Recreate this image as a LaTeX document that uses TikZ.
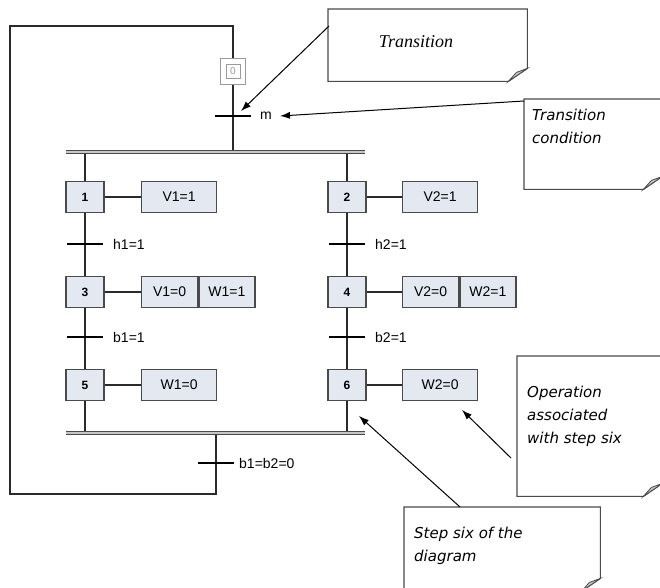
\documentclass[tikz,border=0pt]{standalone}
\usepackage{fontspec}
\setmainfont{Liberation Sans}
\newfontfamily\notefont{DejaVu Sans}
\newfontfamily\noteserif{Liberation Serif}
\usetikzlibrary{arrows.meta}

\definecolor{stepfill}{HTML}{E3E8F1}
\definecolor{stepline}{HTML}{4A4A4A}
\definecolor{wirecol}{HTML}{2A2A2A}
\definecolor{initgray}{HTML}{9A9A9A}
\definecolor{foldgray}{HTML}{C4C4C4}

\tikzset{
  stepbox/.style={draw=stepline, fill=stepfill, line width=1.3pt,
    minimum width=38pt, minimum height=31pt, inner sep=0pt,
    font=\fontsize{12}{12}\selectfont\bfseries},
  actbox/.style={draw=stepline, fill=stepfill, line width=1.3pt,
    minimum width=75pt, minimum height=31pt, inner sep=0pt,
    font=\fontsize{14}{14}\selectfont},
  halfbox/.style={actbox, minimum width=56pt},
  initouter/.style={draw=initgray, fill=white, line width=1pt,
    minimum width=25pt, minimum height=26pt, inner sep=0pt},
  initinner/.style={draw=initgray, line width=1pt, minimum width=14pt,
    minimum height=14pt, inner sep=0pt, text=initgray,
    font=\fontsize{10}{10}\selectfont},
  wire/.style={draw=wirecol, line width=1.1pt},
  tick/.style={draw=black, line width=1.2pt},
  cond/.style={anchor=west, inner sep=0pt, font=\fontsize{14}{14}\selectfont},
  bar/.style={draw=stepline, double=gray!45, double distance=1.6pt, line width=1.3pt},
  callout/.style={-{Latex[length=10pt,width=7pt]}, line width=1pt, draw=black},
  notearea/.style={inner sep=0pt, anchor=north west},
  notebody/.style={draw=stepline, line width=1.1pt, fill=white},
  notetext/.style={inner sep=0pt, anchor=west, align=left,
    font=\notefont\itshape\fontsize{15}{23}\selectfont},
}

% outline of a sticky note with a curled lower right corner
\newcommand\noteoutline[1]{%
  \draw[notebody] (#1.north west) -- (#1.north east)
    -- ([yshift=13pt]#1.south east) -- ([xshift=-19pt]#1.south east)
    -- (#1.south west) -- cycle;
  \filldraw[fill=foldgray, draw=stepline, line width=0.8pt]
    ([yshift=13pt]#1.south east) -- ([xshift=-19pt]#1.south east)
    -- ([xshift=-11pt,yshift=9pt]#1.south east) -- cycle;}

\begin{document}
\begin{tikzpicture}[x=1pt,y=-1pt]
\useasboundingbox (0,0) rectangle (660,587);

% initial step
\node[initouter] (s0) at (233,71) {};
\node[initinner] (s0i) at (s0) {0};

% steps of both branches
\node[stepbox] (s1) at (85,197) {1};
\node[stepbox] (s3) at (85,292) {3};
\node[stepbox] (s5) at (85,385) {5};
\node[stepbox] (s2) at (347,197) {2};
\node[stepbox] (s4) at (347,292) {4};
\node[stepbox] (s6) at (347,385) {6};

% actions
\node[actbox, anchor=west] (a1) at (141,197) {V1=1};
\node[halfbox, anchor=west] (a3) at (141,292) {V1=0};
\node[halfbox, anchor=west] (a3b) at (a3.east) {W1=1};
\node[actbox, anchor=west] (a5) at (141,385) {W1=0};
\node[actbox, anchor=west] (a2) at (402,197) {V2=1};
\node[halfbox, anchor=west] (a4) at (402,292) {V2=0};
\node[halfbox, anchor=west] (a4b) at (a4.east) {W2=1};
\node[actbox, anchor=west] (a6) at (402,385) {W2=0};

\foreach \s/\a in {s1/a1, s3/a3, s5/a5, s2/a2, s4/a4, s6/a6}
  \draw[wire] (\s.east) -- (\a.west);

% synchronisation bars
\coordinate (barTL) at (66,152);
\coordinate (barTR) at (365,152);
\coordinate (barBL) at (66,433);
\coordinate (barBR) at (365,433);
\coordinate (joinT) at (233,152);
\coordinate (joinB) at (216,433);

% branch wiring
\draw[wire] (s1 |- barTL) -- (s1.north);
\draw[wire] (s1.south) -- (s3.north);
\draw[wire] (s3.south) -- (s5.north);
\draw[wire] (s5.south) -- (s5 |- barBL);
\draw[wire] (s2 |- barTL) -- (s2.north);
\draw[wire] (s2.south) -- (s4.north);
\draw[wire] (s4.south) -- (s6.north);
\draw[wire] (s6.south) -- (s6 |- barBL);

% main loop
\coordinate (loopTL) at (10,26);
\coordinate (loopTR) at (233,26);
\coordinate (loopBL) at (10,494);
\coordinate (loopBR) at (216,494);
\draw[wire] (s0.south) -- (joinT);
\draw[wire] (joinB) -- (loopBR) -- (loopBL) -- (loopTL) -- (loopTR) -- (s0.north);

\draw[bar] (barTL) -- (barTR);
\draw[bar] (barBL) -- (barBR);

% transitions
\coordinate (tm) at (233,116);
\coordinate (th1) at (85,244);
\coordinate (tb1) at (85,337);
\coordinate (th2) at (347,244);
\coordinate (tb2) at (347,337);
\coordinate (tend) at (216,463);
\foreach \t in {tm, th1, tb1, th2, tb2, tend}
  \draw[tick] ([xshift=-18pt]\t) -- ([xshift=18pt]\t);
\node[cond] (lm) at ([xshift=27pt]tm) {m};
\node[cond] (lh1) at ([xshift=28pt]th1) {h1=1};
\node[cond] (lb1) at ([xshift=28pt]tb1) {b1=1};
\node[cond] (lh2) at ([xshift=28pt]th2) {h2=1};
\node[cond] (lb2) at ([xshift=28pt]tb2) {b2=1};
\node[cond] (lend) at ([xshift=23pt]tend) {b1=b2=0};

% explanatory notes
\node[notearea, minimum width=199pt, minimum height=72pt] (nA) at (328,9) {};
\node[notearea, minimum width=138pt, minimum height=90pt] (nB) at (524,99) {};
\node[notearea, minimum width=145pt, minimum height=140pt] (nC) at (517,356) {};
\node[notearea, minimum width=196pt, minimum height=84pt] (nD) at (404,507) {};
\noteoutline{nA}
\noteoutline{nB}
\noteoutline{nC}
\noteoutline{nD}

\node[inner sep=0pt, font=\noteserif\itshape\fontsize{18}{18}\selectfont]
  (txA) at (416,42) {Transition};
\node[notetext] (txB) at (532,126) {Transition\\condition};
\node[notetext] (txC) at (527,416) {Operation\\associated\\with step  six};
\node[notetext] (txD) at (414,546) {Step six of the\\diagram};

% pointers from the notes
\coordinate (pA) at (329,26);
\coordinate (qA) at (241,111);
\coordinate (pB) at (524,101);
\coordinate (qB) at (280,116);
\coordinate (pC) at (511,458);
\coordinate (qC) at (462,410);
\coordinate (pD) at (460,507);
\coordinate (qD) at (359,416);
\draw[callout] (pA) -- (qA);
\draw[callout] (pB) -- (qB);
\draw[callout] (pC) -- (qC);
\draw[callout] (pD) -- (qD);
\end{tikzpicture}
\end{document}
